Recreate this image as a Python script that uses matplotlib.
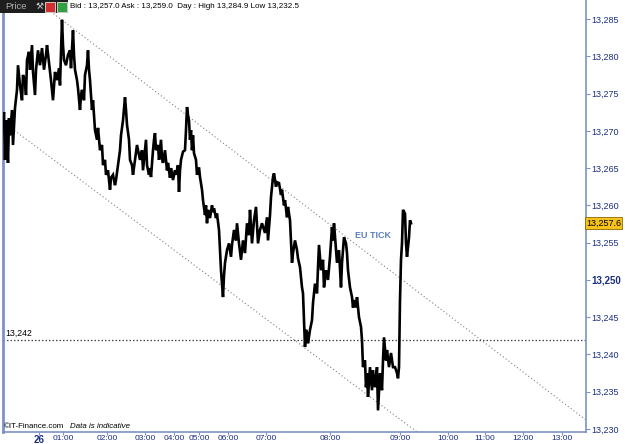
import matplotlib
matplotlib.use("Agg")
import matplotlib.pyplot as plt
from matplotlib.patches import Rectangle

# ---------------- data ----------------
bar_index = [
    3, 4, 5, 6, 7, 8, 9, 10, 12, 13,
    15, 17, 18, 20, 22, 23, 25, 26, 27, 29,
    30, 32, 33, 35, 36, 38, 40, 42, 44, 46,
    47, 49, 51, 53, 55, 57, 59, 60, 62, 63,
    64, 66, 68, 70, 71, 73, 74, 75, 77, 78,
    80, 81, 82, 84, 85, 87, 88, 89, 90, 92,
    93, 95, 97, 98, 100, 102, 103, 105, 106, 108,
    110, 111, 113, 115, 116, 118, 120, 121, 123, 125,
    126, 127, 129, 130, 132, 133, 135, 137, 139, 140,
    142, 143, 145, 146,
    147, 149, 150, 151, 153, 154, 155, 156, 158, 159,
    161, 162, 163, 165, 167, 168, 170, 171, 173, 175,
    176, 178, 179, 180, 181, 183, 185, 186, 187, 188,
    189, 190, 191, 192, 193, 194, 196, 197, 199, 200,
    202, 203, 205, 206, 207, 208, 210, 212, 213, 214,
    216, 217, 219, 220, 221, 223, 224, 225, 227, 229,
    231, 232, 234, 236, 237, 239, 241, 243, 245, 247,
    249, 250, 252, 254, 256, 258, 260, 262, 265, 267,
    268, 270, 271, 273, 274, 276, 277, 279, 281, 282,
    284, 285, 287, 288, 290,
    291, 292, 293, 295, 297, 298, 300, 302, 303, 304,
    305, 306, 307, 308, 310, 312, 313, 315, 317, 318,
    319, 321, 323, 324, 326, 328, 330, 332, 333, 334,
    336, 337, 339, 341, 342, 344, 346, 347, 348, 350,
    352, 353, 354, 356, 357, 359, 361, 362, 363, 365,
    366, 367, 368, 370, 372, 373, 375, 377, 378, 380,
    382, 383, 384, 386, 387, 389, 391, 393, 395, 397,
    398, 399, 400, 401, 402, 403, 405, 406, 407, 409,
    410, 411,
]
price = [
    13270.8, 13272.5, 13266.1, 13271.4, 13268.8, 13265.7, 13271.7, 13269.4, 13272.8, 13268.1,
    13273.1, 13275.5, 13278.8, 13276.1, 13274.1, 13277.5, 13276.6, 13274.8, 13279.5, 13280.6,
    13278.2, 13281.5, 13277.9, 13274.8, 13278.2, 13280.8, 13278.8, 13281.1, 13278.2, 13280.2,
    13281.5, 13279.2, 13276.8, 13274.1, 13277.9, 13276.8, 13278.4, 13276.1, 13284.9, 13281.5,
    13279.5, 13278.8, 13280.2, 13280.8, 13278.4, 13283.5, 13280.2, 13278.2, 13276.8, 13275.7,
    13272.8, 13274.8, 13275.5, 13274.1, 13277.5, 13278.8, 13280.8, 13278.2, 13276.8, 13272.8,
    13274.1, 13270.1, 13268.8, 13270.4, 13267.4, 13268.1, 13265.4, 13266.1, 13264.1, 13264.7,
    13262.1, 13263.7, 13264.1, 13262.7, 13263.4, 13265.4, 13267.4, 13269.4, 13271.4, 13274.5,
    13272.8, 13270.8, 13268.8, 13266.1, 13265.4, 13264.1, 13266.1, 13268.1, 13266.8, 13266.1,
    13267.4, 13264.7, 13267.4, 13268.8,
    13265.4, 13264.1, 13265.0, 13263.8, 13267.4, 13268.8, 13269.7, 13267.4, 13268.1, 13266.1,
    13268.8, 13266.3, 13265.7, 13267.4, 13264.7, 13265.7, 13263.7, 13265.0, 13263.4, 13264.7,
    13264.1, 13265.4, 13261.8, 13264.7, 13266.1, 13267.2, 13267.4, 13270.1, 13273.2, 13272.1,
    13271.4, 13268.8, 13270.1, 13267.4, 13269.4, 13267.0, 13266.1, 13264.1, 13265.1, 13263.8,
    13262.1, 13260.7, 13258.7, 13260.0, 13257.6, 13259.4, 13258.3, 13260.0, 13259.1, 13259.6,
    13258.3, 13258.9, 13256.7, 13254.0, 13251.3, 13247.7, 13250.6, 13252.3, 13254.0, 13254.9,
    13253.1, 13254.7, 13256.7, 13255.3, 13257.6, 13254.9, 13252.7, 13255.3, 13253.6, 13257.6,
    13256.0, 13259.4, 13254.9, 13258.0, 13259.8, 13254.9, 13256.7, 13257.6, 13256.3, 13258.4,
    13255.3, 13258.7, 13261.1, 13263.8, 13264.3, 13262.5, 13263.1, 13263.0, 13261.4, 13262.1,
    13260.0, 13260.7, 13258.4, 13259.8, 13258.0,
    13255.3, 13252.3, 13253.6, 13255.3, 13254.0, 13252.9, 13251.7, 13249.0, 13248.2, 13244.6,
    13241.0, 13243.3, 13242.9, 13241.5, 13243.3, 13244.6, 13246.9, 13249.5, 13248.2, 13251.7,
    13254.7, 13251.3, 13252.7, 13249.0, 13251.3, 13250.0, 13253.1, 13257.1, 13255.3, 13257.6,
    13254.0, 13252.3, 13254.0, 13249.0, 13252.3, 13255.7, 13254.9, 13253.6, 13251.3, 13249.0,
    13247.7, 13246.3, 13247.3, 13246.3, 13247.7, 13245.0, 13243.7, 13241.9, 13238.3, 13239.2,
    13235.6, 13237.5, 13234.3, 13238.3, 13235.2, 13237.9, 13235.6, 13238.3, 13232.5, 13237.5,
    13235.2, 13239.2, 13242.3, 13239.2, 13240.6, 13238.3, 13240.2, 13238.3, 13238.3, 13237.5,
    13236.8, 13238.3, 13247.3, 13252.7, 13254.9, 13259.4, 13258.9, 13254.9, 13253.1, 13255.7,
    13258.0, 13257.6,
]

# time-axis ticks (bar positions) and labels
time_tick_pos = [39, 63, 107, 145, 174, 199, 228, 266, 330, 400, 448, 485, 523, 562]
time_tick_labels = ["26", "01:00", "02:00", "03:00", "04:00", "05:00", "06:00",
                    "07:00", "08:00", "09:00", "10:00", "11:00", "12:00", "13:00"]

price_ticks = [13230, 13235, 13240, 13245, 13250, 13255, 13260, 13265, 13270, 13275, 13280, 13285]

# channel (trend) lines: (bar, price) endpoints
upper_channel = [(45, 13286.6), (586, 13231.2)]
lower_channel = [(3, 13271.2), (420, 13229.3)]
support_level = 13242
last_price = 13257.6

header_text = "Bid : 13,257.0 Ask : 13,259.0  Day : High 13,284.9 Low 13,232.5"

# ---------------- figure ----------------
W, H = 625, 444
fig = plt.figure(figsize=(W / 100, H / 100), dpi=100)
fig.patch.set_facecolor("white")
AX_BOTTOM_PX = 432
ax = fig.add_axes([3 / W, (H - AX_BOTTOM_PX) / H, 583 / W, AX_BOTTOM_PX / H])
ax.set_xlim(3, 586)
ax.set_ylim(13229.6, 13287.55)

blue_txt = "#1c2f7e"
frame = "#7d92c4"

ax.plot(bar_index, price, color="black", lw=1.9, solid_joinstyle="miter", zorder=3)

ax.plot([upper_channel[0][0], upper_channel[1][0]], [upper_channel[0][1], upper_channel[1][1]],
        color="#808080", lw=0.8, ls=(0, (1, 2.2)), zorder=2)
ax.plot([lower_channel[0][0], lower_channel[1][0]], [lower_channel[0][1], lower_channel[1][1]],
        color="#808080", lw=0.8, ls=(0, (1, 2.2)), zorder=2)
ax.axhline(support_level, color="#444444", lw=0.9, ls=(0, (1.2, 1.6)), zorder=2)
ax.text(5, support_level + 0.25, "13,242", fontsize=6.3, color="black",
        family="Liberation Sans", va="bottom", ha="left")

ax.text(373, 13255.9, "EU TICK", fontsize=6.5, color="#5a7fc2", fontweight="bold",
        family="Liberation Sans", ha="center", va="center")

# spines
ax.spines["top"].set_visible(False)
ax.spines["left"].set_color(frame)
ax.spines["left"].set_linewidth(2.0)
ax.spines["right"].set_color(frame)
ax.spines["right"].set_linewidth(1.2)
ax.spines["bottom"].set_color(frame)
ax.spines["bottom"].set_linewidth(1.2)

ax.yaxis.tick_right()
ax.set_yticks(price_ticks)
ax.set_yticklabels([f"{v:,}" for v in price_ticks])
ax.tick_params(axis="y", direction="out", length=3, width=0.8, color=frame, pad=1,
               labelsize=6.5, labelcolor=blue_txt)
for lab in ax.get_yticklabels():
    lab.set_family("Liberation Sans")
    if lab.get_text() == "13,250":
        lab.set_fontweight("bold")
        lab.set_fontsize(7.0)

ax.set_xticks(time_tick_pos)
ax.set_xticklabels(time_tick_labels)
ax.tick_params(axis="x", direction="out", length=2, width=0.8, color=frame, pad=0,
               labelsize=6.0, labelcolor=blue_txt)
for lab in ax.get_xticklabels():
    lab.set_family("Liberation Sans")
    if lab.get_text() == "26":
        lab.set_fontweight("bold")
        lab.set_fontsize(7.0)

# last price tag
ax.text(1.0, last_price, "13,257.6", transform=ax.get_yaxis_transform(),
        ha="left", va="center", fontsize=6.5, color="black", family="Liberation Sans",
        bbox=dict(boxstyle="square,pad=0.15", fc="#f7c21a", ec="#8a6a00", lw=0.6),
        clip_on=False, zorder=6)

# header bar
def fx(px):
    return px / W

def fy(py):
    return 1 - py / H

fig.patches.append(Rectangle((fx(0), fy(13)), fx(68), 13 / H, transform=fig.transFigure,
                             fc="#1e1e1e", ec="none", zorder=10))
fig.text(fx(5), fy(6.5), "Price", fontsize=6.8, color="#b0b0b0", family="Liberation Sans",
         va="center", ha="left", zorder=11)
fig.text(fx(36), fy(6.5), "\u2692", fontsize=6.5, color="#d0d0d0", family="DejaVu Sans",
         va="center", ha="left", zorder=11)
fig.patches.append(Rectangle((fx(45), fy(12)), 10 / W, 10 / H, transform=fig.transFigure,
                             fc="#d03030", ec="#e0e0e0", lw=0.6, zorder=11))
fig.patches.append(Rectangle((fx(57), fy(12)), 10 / W, 10 / H, transform=fig.transFigure,
                             fc="#30a040", ec="#e0e0e0", lw=0.6, zorder=11))
fig.text(fx(70), fy(6.5), header_text, fontsize=5.8, color="black", family="Liberation Sans",
         va="center", ha="left", zorder=11)

# footer text
fig.text(fx(4), fy(426), "\u00a9IT-Finance.com", fontsize=5.7, color="black",
         family="Liberation Sans", va="center", ha="left")
fig.text(fx(70), fy(426), "Data is indicative", fontsize=5.7, color="black", style="italic",
         family="Liberation Sans", va="center", ha="left")

fig.savefig("out.png", dpi=100)
